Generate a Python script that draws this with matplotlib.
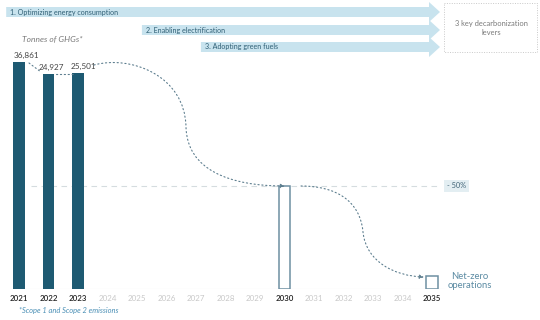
import matplotlib
matplotlib.use("Agg")
import matplotlib.pyplot as plt
from matplotlib import transforms
from matplotlib.patches import Polygon, Rectangle, FancyArrowPatch
from matplotlib.path import Path

plt.rcParams['font.family'] = ['Lato', 'DejaVu Sans']

# ---------------- data ----------------
years = list(range(2021, 2036))
bar_years = [2021, 2022, 2023]
bar_heights = [100.0, 94.7, 95.2]          # drawn heights (2021 = 100)
bar_labels = ["36,861", "24,927", "25,501"]
target_years = [2030, 2035]
target_heights = [45.4, 5.7]
highlight_years = [2021, 2022, 2023, 2030, 2035]
levers = ["1. Optimizing energy consumption", "2. Enabling electrification", "3. Adopting green fuels"]
lever_start = [2020.6, 2025.2, 2027.2]
reduction_label = "- 50%"

W, H = 540, 320
fig = plt.figure(figsize=(W / 100, H / 100), dpi=100)
fig.patch.set_facecolor("white")
pix = transforms.Affine2D().scale(1 / W, -1 / H).translate(0, 1) + fig.transFigure

base_px = 289
ax = fig.add_axes([0, (H - base_px) / H, 1, base_px / H])
x0_px, step_px = 19, 29.5
ax.set_xlim(2021 - x0_px / step_px, 2021 + (W - x0_px) / step_px)
k = 227 / 100.0
ax.set_ylim(0, base_px / k)
for s in ax.spines.values():
    s.set_visible(False)
ax.set_yticks([])

dark = "#1e5a72"
outline = "#6e8fa2"
ax.bar(bar_years, bar_heights, width=0.4, color=dark, zorder=3)
ax.bar(target_years, target_heights, width=0.4, facecolor="white", edgecolor=outline, linewidth=1.1, zorder=3)

ax.set_xticks(years)
ax.set_xticklabels([str(y) for y in years], fontsize=5.7)
ax.tick_params(axis="x", length=0, pad=4)
for lab, y in zip(ax.get_xticklabels(), years):
    if y in highlight_years:
        lab.set_color("#222222")
        lab.set_fontweight("semibold")
    else:
        lab.set_color("#c8c8c8")

# baseline
ax.axhline(0, xmin=0.02, xmax=0.82, color="#ececec", lw=0.8, zorder=1)

# value labels
offsets = [(0.24, 1.4), (0.1, 1.3), (0.17, 1.3)]
for x, h, lab, (dx, dy) in zip(bar_years, bar_heights, bar_labels, offsets):
    ax.text(x + dx, h + dy, lab, fontsize=5.9, color="#444444", ha="center", va="bottom", zorder=4)

# -50% dashed line
ax.plot([2021.4, 2035.3], [target_heights[0]] * 2, color="#d5dcdf", lw=0.8, dashes=(5, 4), zorder=1)
fig.text(447, 186, reduction_label, transform=pix, fontsize=5.3, color="#3f6275", va="center", ha="left",
         bbox=dict(boxstyle="square,pad=0.4", fc="#e3eef2", ec="none"))

# titles / notes
fig.text(22, 39, "Tonnes of GHGs*", transform=pix, fontsize=6, style="italic", color="#7a7a7a", va="center")
fig.text(19, 311, "*Scope 1 and Scope 2 emissions", transform=pix, fontsize=5.4, style="italic", color="#4a8fb5", va="center")
fig.text(470, 281, "Net-zero\noperations", transform=pix, fontsize=6.8, color="#5b8ba3", ha="center", va="center", linespacing=1.05)

# lever arrows
arrow_fc = "#c8e3ee"
body_y = [(7, 17), (25, 35), (42, 52)]
head_y = [(2, 22), (20, 40), (37, 57)]
tip_x, head_x = 440, 429
for lab, xs, (b0, b1), (h0, h1) in zip(levers, lever_start, body_y, head_y):
    xs_px = 18 + (xs - 2021) * step_px
    pts = [(xs_px, b0), (head_x, b0), (head_x, h0), (tip_x, (b0 + b1) / 2), (head_x, h1), (head_x, b1), (xs_px, b1)]
    fig.patches.append(Polygon(pts, closed=True, fc=arrow_fc, ec="none", transform=pix))
    fig.text(xs_px + 4, (b0 + b1) / 2, lab, transform=pix, fontsize=5.1, color="#2f5f75", va="center")

# dotted box
fig.patches.append(Rectangle((444, 3), 93, 49, fill=False, ec="#c9c9c9", lw=0.7, ls=(0, (1, 1.5)), transform=pix))
fig.text(491, 28, "3 key decarbonization\nlevers", transform=pix, fontsize=5.4, color="#7a7a7a", ha="center", va="center", linespacing=1.3)

# connector curves
cc = "#5c7d8e"
def dotted(points, codes, arrow=True):
    p = FancyArrowPatch(path=Path(points, codes), transform=pix,
                        arrowstyle="-|>,head_length=2.5,head_width=1.2" if arrow else "-",
                        color=cc, lw=0.8, linestyle=(0, (1.1, 2.4)), shrinkA=0, shrinkB=0)
    fig.patches.append(p)

L, C = Path.LINETO, Path.CURVE4
M = Path.MOVETO
dotted([(29, 63), (41, 72)], [M, L], arrow=False)
dotted([(56, 74), (74, 74)], [M, L], arrow=False)
dotted([(94, 65), (130, 55), (185, 75), (186, 127), (187, 170), (230, 186), (285, 186)],
       [M, C, C, C, C, C, C])
dotted([(301, 186), (335, 186), (360, 200), (363, 232), (366, 262), (395, 276), (424, 277)],
       [M, C, C, C, C, C, C])

fig.savefig("out.png", dpi=100, facecolor="white")
